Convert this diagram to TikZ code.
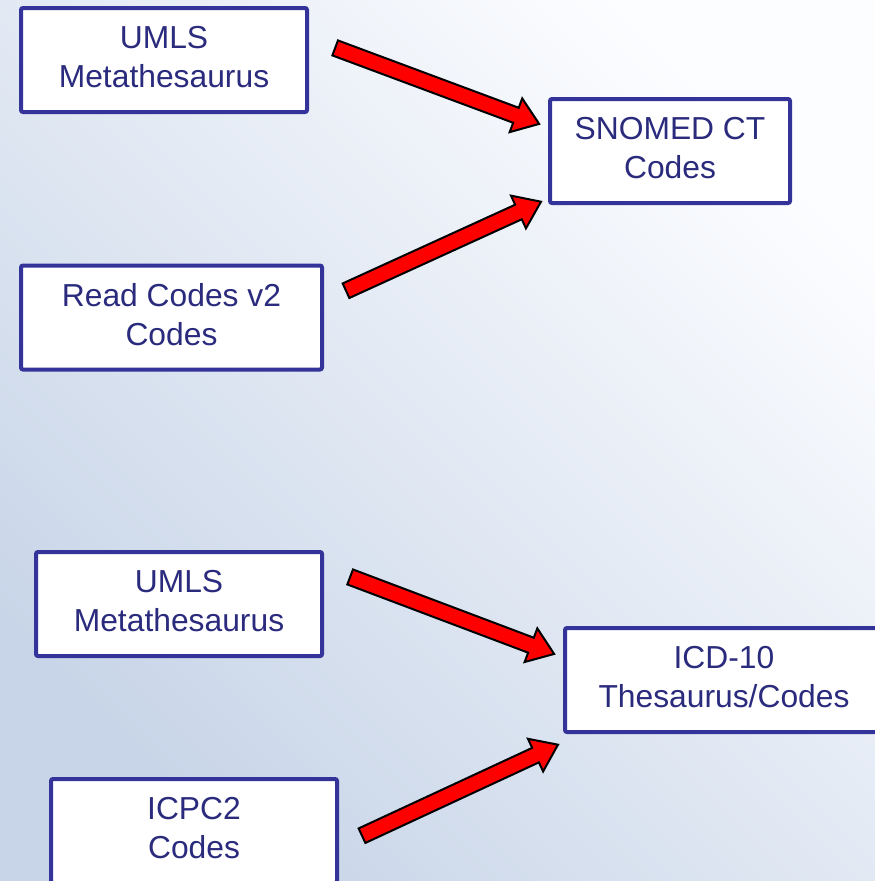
\documentclass[tikz,border=0pt]{standalone}
\usepackage{fontspec}
\setmainfont{Liberation Sans}
\usetikzlibrary{shapes.arrows,calc}
\definecolor{boxblue}{HTML}{333399}
\definecolor{txtblue}{HTML}{2B2B7E}
\definecolor{bgA}{HTML}{C8D5E8}
\definecolor{bgM}{HTML}{EDF1F8}
\definecolor{bgB}{HTML}{FCFDFF}
\tikzset{
  termbox/.style={draw=boxblue, line width=4pt, fill=white, rounded corners=2pt,
    inner sep=0pt, minimum height=104pt},
  termtext/.style={align=center, text=txtblue, inner sep=0pt,
    font=\fontsize{31.8}{39}\selectfont},
  redarrow/.style={single arrow, draw=black, line width=2pt, fill=red,
    inner xsep=0pt, inner ysep=7pt, minimum width=0pt,
    single arrow head extend=10pt, single arrow tip angle=72}
}
\newcommand{\blockarr}[3]{%
  \path let \p1=($(#3)-(#2)$), \n1={veclen(\x1,\y1)}, \n2={atan2(\y1,\x1)} in
    node[redarrow, minimum height=\n1, rotate=\n2] (#1) at ($(#2)!0.5!(#3)$) {};}
\newcommand{\termnode}[5]{%
  \node[termbox, minimum width=#3] (#1) at (#2) {};
  \node[termtext] (#1-t) at ([yshift=3pt]#1.center) {#4\\#5};}
\begin{document}
\begin{tikzpicture}[x=1pt,y=-1pt]
  \useasboundingbox (0,0) rectangle (875,881);
  \shade[bottom color=bgA, middle color=bgM, top color=bgB, shading angle=-45]
    (0,0) rectangle (875,881);

  \termnode{umlsA}{164,60}{286pt}{UMLS}{Metathesaurus}
  \termnode{snomed}{670,151}{240pt}{SNOMED CT}{Codes}
  \termnode{read}{171.5,317.5}{301pt}{Read Codes v2}{Codes}
  \termnode{umlsB}{179,604}{286pt}{UMLS}{Metathesaurus}
  \termnode{icd}{724,680}{318pt}{ICD-10}{Thesaurus/Codes}
  \termnode{icpc}{194,831}{286pt}{ICPC2}{Codes}

  \coordinate (a1s) at (330,46);  \coordinate (a1e) at (534,122);
  \coordinate (a2s) at (341,293); \coordinate (a2e) at (536,204);
  \coordinate (a3s) at (345,575); \coordinate (a3e) at (549,652);
  \coordinate (a4s) at (357,838); \coordinate (a4e) at (553,747);

  \blockarr{arr1}{a1s}{a1e}
  \blockarr{arr2}{a2s}{a2e}
  \blockarr{arr3}{a3s}{a3e}
  \blockarr{arr4}{a4s}{a4e}
\end{tikzpicture}
\end{document}
